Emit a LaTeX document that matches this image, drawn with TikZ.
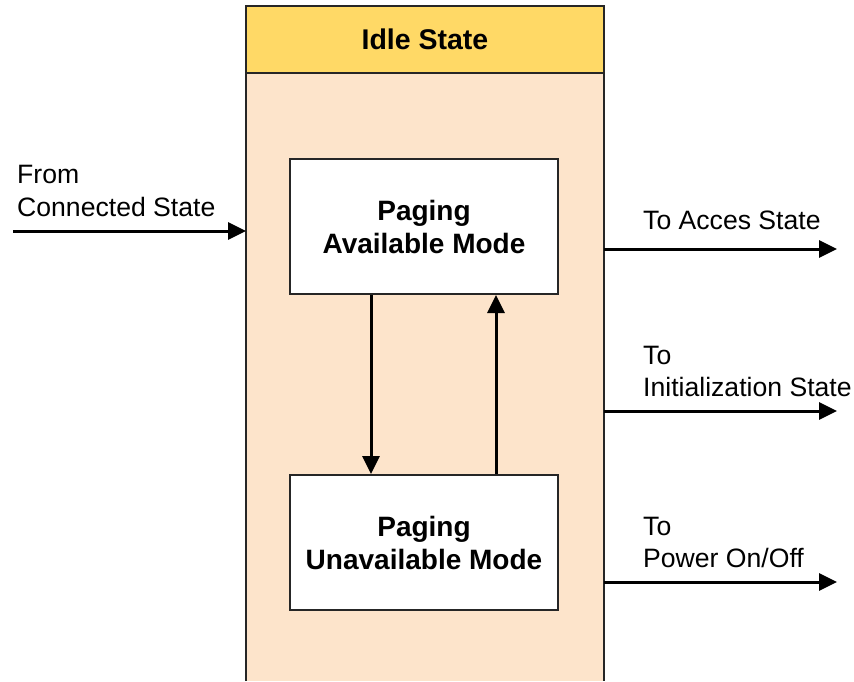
\documentclass[tikz,border=0pt]{standalone}
\usepackage{fontspec}
\setmainfont{Liberation Sans}
\usetikzlibrary{arrows.meta}

\definecolor{headyellow}{RGB}{255,217,102}
\definecolor{bodypeach}{RGB}{253,228,203}

\tikzset{
  flow/.style={line width=3pt, -{Triangle[length=18pt,width=17pt]}},
  modebox/.style={draw=black!85, line width=2pt, fill=white, minimum width=268pt,
    minimum height=135pt, align=center, font=\fontsize{28}{33}\selectfont\bfseries},
  lbl/.style={anchor=base west, inner sep=0pt, font=\fontsize{26.6}{33}\selectfont},
}

\begin{document}
\begin{tikzpicture}[x=1pt,y=-1pt]
\useasboundingbox (0,0) rectangle (854,681);

% state body, open at the bottom
\fill[bodypeach] (246,73) rectangle (604,681);
\draw[line width=2pt, black!85] (246,681) -- (246,6) -- (604,6) -- (604,681);

% header band
\node[draw=black!85, line width=2pt, fill=headyellow, minimum width=358pt, minimum height=67pt,
      font=\fontsize{28.5}{33}\selectfont\bfseries] (head) at (425,39.5) {Idle State};

% modes
\node[modebox] (avail) at (424,226.5) {Paging\\Available Mode};
\node[modebox] (unavail) at (424,542.5) {Paging\\Unavailable Mode};

\draw[flow] ([xshift=-53pt]avail.south) -- ([xshift=-53pt]unavail.north);
\draw[flow] ([xshift=72pt]unavail.north) -- ([xshift=72pt]avail.south);

% incoming transition
\coordinate (inStart) at (13,231);
\coordinate (inEnd) at (246,231);
\draw[flow] (inStart) -- (inEnd);
\node[lbl] (fromA) at (17,183) {From};
\node[lbl] (fromB) at (17,216) {Connected State};

% outgoing transitions
\coordinate (outA) at (604,249);
\coordinate (outAend) at (837,249);
\coordinate (outB) at (604,411);
\coordinate (outBend) at (837,411);
\coordinate (outC) at (604,582);
\coordinate (outCend) at (837,582);
\draw[flow] (outA) -- (outAend);
\draw[flow] (outB) -- (outBend);
\draw[flow] (outC) -- (outCend);

\node[lbl] (toA) at (643,229) {To Acces State};
\node[lbl] (toB1) at (643,364) {To};
\node[lbl] (toB2) at (643,396) {Initialization State};
\node[lbl] (toC1) at (643,535) {To};
\node[lbl] (toC2) at (643,567) {Power On/Off};
\end{tikzpicture}
\end{document}
